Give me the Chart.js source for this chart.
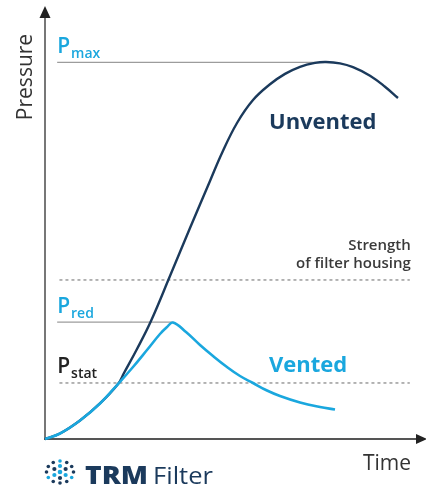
<!DOCTYPE html>
<html><head><meta charset="utf-8">
<script src="https://cdn.jsdelivr.net/npm/chart.js@4"></script>
<style>html,body{margin:0;padding:0;background:#fff;overflow:hidden}#wrap{position:relative;width:426px;height:495px}</style>
</head><body><div id="wrap"><canvas id="c" width="426" height="495"></canvas></div>
<script>
// ---- data (time and pressure in arbitrary units, 0..100) ----
const ventedTime     = [0, 3.95, 9.21, 14.47, 19.21, 23.16, 26.84, 30.26, 32.11, 33.68, 37.11, 40.79, 44.21, 47.89, 51.32, 54.74, 58.42, 61.84, 67.11, 72.37, 76.32];
const ventedPressure = [0, 1.28, 4.29, 8.24, 12.76, 16.71, 20.65, 24.36, 25.99, 27.03, 24.83, 21.81, 19.26, 16.71, 14.62, 12.99, 11.25, 9.98, 8.47, 7.42, 6.84];
const unventedTime     = [0, 3.95, 9.21, 14.47, 19.21, 20.79, 24.21, 27.89, 32.89, 38.16, 43.42, 46.58, 50.53, 54.74, 59.21, 63.16, 67.11, 71.05, 73.95, 77.63, 81.05, 85.53, 89.47, 92.89];
const unventedPressure = [0, 1.28, 4.29, 8.24, 12.76, 15.31, 20.88, 27.38, 37.82, 48.96, 59.86, 66.36, 73.32, 78.65, 82.30, 84.71, 86.36, 87.26, 87.47, 87.15, 86.26, 84.29, 81.74, 79.12];
const pMax = 87.4, pRed = 27.1, pStrength = 36.9, pStat = 13.0;
const refStart = 3.2, dashStart = 3.8, dashEnd = 96;
const pMaxEnd = 73.9, pRedEnd = 33.6;
const seriesNames = ['Vented', 'Unvented'];
const axisTitles = ['Time', 'Pressure'];
const strengthLabel = ['Strength', 'of filter housing'];

const CYAN = '#1aa7de', NAVY = '#1b3a5c';
const FONT = '"Open Sans", "DejaVu Sans", sans-serif';

const pts = (xs, ys) => xs.map((x, i) => ({x, y: ys[i]}));

const overlay = {
  id: 'overlay',
  beforeDatasetsDraw(chart) {
    const ctx = chart.ctx, xs = chart.scales.x, ys = chart.scales.y;
    const x0 = xs.getPixelForValue(0), y0 = ys.getPixelForValue(0);
    ctx.save();
    // y axis
    ctx.strokeStyle = '#777'; ctx.lineWidth = 2;
    ctx.beginPath(); ctx.moveTo(x0, y0 + 1); ctx.lineTo(x0, 16); ctx.stroke();
    ctx.fillStyle = '#222';
    ctx.beginPath(); ctx.moveTo(x0, 6); ctx.lineTo(x0 - 5.5, 18); ctx.lineTo(x0 + 5.5, 18); ctx.closePath(); ctx.fill();
    // x axis
    ctx.strokeStyle = '#555'; ctx.lineWidth = 2;
    ctx.beginPath(); ctx.moveTo(x0 - 1, y0); ctx.lineTo(418, y0); ctx.stroke();
    ctx.fillStyle = '#222';
    ctx.beginPath(); ctx.moveTo(427, y0); ctx.lineTo(416, y0 - 5); ctx.lineTo(416, y0 + 5); ctx.closePath(); ctx.fill();
    ctx.restore();
  },
  afterDraw(chart) {
    const ctx = chart.ctx, xs = chart.scales.x, ys = chart.scales.y;
    ctx.save();
    ctx.textBaseline = 'alphabetic';
    const pLabel = (sub, level, color) => {
      const x = xs.getPixelForValue(refStart), y = ys.getPixelForValue(level);
      ctx.fillStyle = color;
      ctx.font = '600 21px ' + FONT; ctx.textAlign = 'left';
      ctx.fillText('P', x, y - 9.5);
      const w = ctx.measureText('P').width;
      ctx.font = '600 14px ' + FONT;
      ctx.fillText(sub, x + w + 1, y - 4.5);
    };
    pLabel('max', pMax, CYAN);
    pLabel('red', pRed, CYAN);
    pLabel('stat', pStat, '#222');

    // series labels
    ctx.font = '700 22px ' + FONT; ctx.textAlign = 'left';
    ctx.fillStyle = NAVY; ctx.fillText(seriesNames[1], 269, 129);
    ctx.fillStyle = CYAN; ctx.fillText(seriesNames[0], 269, 372);

    // strength label
    ctx.fillStyle = '#3a3a3a'; ctx.font = '600 15px ' + FONT; ctx.textAlign = 'right';
    const sx = xs.getPixelForValue(dashEnd) + 1;
    ctx.fillText(strengthLabel[0], sx, 250);
    ctx.fillText(strengthLabel[1], sx, 268);

    // axis titles
    ctx.fillStyle = '#333'; ctx.font = '400 21px ' + FONT;
    ctx.textAlign = 'right';
    ctx.fillText(axisTitles[0], 411, 470);
    ctx.save();
    ctx.translate(32, 77); ctx.rotate(-Math.PI / 2);
    ctx.textAlign = 'center';
    ctx.fillText(axisTitles[1], 0, 0);
    ctx.restore();

    // logo
    const drawStretched = (txt, x, base, font, target, color) => {
      ctx.font = font; ctx.fillStyle = color; ctx.textAlign = 'left';
      const w = ctx.measureText(txt).width;
      ctx.save(); ctx.translate(x, base); ctx.scale(target / w, 1);
      ctx.fillText(txt, 0, 0); ctx.restore();
    };
    drawStretched('TRM', 85, 484, '800 24px ' + FONT, 63, NAVY);
    drawStretched('Filter', 153, 484, '500 24px ' + FONT, 60, NAVY);
    const cx = 60, cy = 472;
    const dot = (x, y, r, c) => { ctx.fillStyle = c; ctx.beginPath(); ctx.arc(x, y, r, 0, Math.PI * 2); ctx.fill(); };
    dot(cx, cy, 2.3, CYAN);
    for (let i = 0; i < 6; i++) {
      const a = i * Math.PI / 3 + Math.PI / 6;
      dot(cx + 6.5 * Math.cos(a), cy + 6 * Math.sin(a), 2.1, i % 2 ? NAVY : CYAN);
    }
    for (let i = 0; i < 12; i++) {
      const a = i * Math.PI / 6;
      dot(cx + 13.5 * Math.cos(a), cy + 11 * Math.sin(a), 1.8, i % 4 === 1 ? CYAN : NAVY);
    }
    ctx.restore();
  }
};

const refLine = (x1, x2, y, dashed) => ({
  data: [{x: x1, y}, {x: x2, y}],
  borderColor: dashed ? '#8c8c8c' : '#9c9c9c',
  borderWidth: dashed ? 1.3 : 1.2,
  borderDash: dashed ? [3, 3] : [],
  pointRadius: 0, tension: 0, clip: false
});

new Chart(document.getElementById('c'), {
  type: 'line',
  data: {
    datasets: [
      {label: seriesNames[0], data: pts(ventedTime, ventedPressure), borderColor: CYAN, borderWidth: 2.6,
       pointRadius: 0, tension: 0.4, clip: false},
      {label: seriesNames[1], data: pts(unventedTime, unventedPressure), borderColor: NAVY, borderWidth: 2.4,
       pointRadius: 0, tension: 0.4, clip: false},
      refLine(refStart, pMaxEnd, pMax, false),
      refLine(refStart, pRedEnd, pRed, false),
      refLine(dashStart, dashEnd, pStrength, true),
      refLine(dashStart, dashEnd, pStat, true)
    ]
  },
  options: {
    responsive: false, animation: false, devicePixelRatio: 1,
    layout: {padding: {left: 45, right: 1, top: 8, bottom: 56}},
    scales: {
      x: {type: 'linear', min: 0, max: 100, display: false},
      y: {type: 'linear', min: 0, max: 100, display: false}
    },
    plugins: {legend: {display: false}, tooltip: {enabled: false}}
  },
  plugins: [overlay]
});
</script></body></html>
